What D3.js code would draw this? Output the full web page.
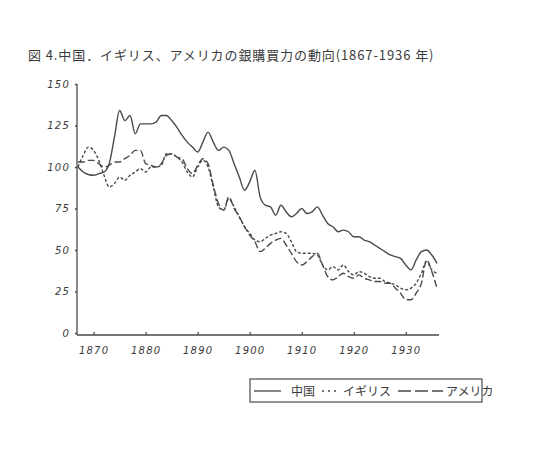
<!DOCTYPE html>
<html>
<head>
<meta charset="utf-8">
<script src="https://cdn.jsdelivr.net/npm/d3@7"></script>
<style>
  body { margin: 0; background: #fff; }
  svg text { fill: #3a3a3a; }
</style>
</head>
<body>
<svg width="545" height="458"></svg>
<script>
const years = d3.range(1867, 1937)

const china = [100, 97, 95.5, 95, 96, 97, 102, 118, 134, 128,
  131, 120, 126, 126, 126, 127, 131, 131, 128, 124,
  119, 115, 112, 109, 115, 121, 115, 110, 112, 110,
  102, 94, 86, 91, 98, 82, 77, 76, 71, 77,
  73, 70, 72, 75, 72, 73, 76, 71, 66, 64,
  61, 62, 61, 58, 58, 56, 55, 53, 51, 49,
  47, 46, 45, 41, 38, 44, 49, 50, 47, 42]

const britain = [100, 107, 112, 110, 104, 95, 88, 90, 94, 92,
  95, 97, 99, 97, 100, 100, 101, 108, 108, 106,
  103, 97, 94, 100, 104, 100, 88, 76, 74, 81,
  76, 70, 64, 60, 56, 55, 57, 59, 60, 61,
  60, 55, 49, 48, 48, 48, 47, 41, 38, 40,
  38, 41, 37, 35, 37, 36, 34, 33, 33, 31,
  30, 29, 27, 26, 27, 30, 36, 43, 38, 36]

const america = [103, 103, 104, 104, 102, 100, 101, 103, 103, 105,
  107, 110, 110, 102, 101, 100, 102, 107, 108, 106,
  105, 99, 96, 101, 105, 102, 89, 78, 74, 82,
  75, 70, 64, 59, 55, 49, 51, 54, 56, 57,
  53, 48, 43, 41, 43, 46, 48, 41, 34, 32,
  34, 36, 34, 33, 35, 33, 32, 31, 31, 30,
  30, 27, 24, 20, 20, 24, 30, 44, 37, 27]

const yTicks = [0, 25, 50, 75, 100, 125, 150]
const xTicks = [1870, 1880, 1890, 1900, 1910, 1920, 1930]

const title = '図 4.中国．イギリス、アメリカの銀購買力の動向(1867-1936 年)'
const legendNames = ['中国', 'イギリス', 'アメリカ']

const svg = d3.select('svg')
const ink = '#4a4a4a'

const xScale = d3.scaleLinear()
  .domain([1867, 1936])
  .range([78, 437])

const yScale = d3.scaleLinear()
  .domain([0, 150])
  .range([333, 84])

svg.append('text')
  .attr('x', 28)
  .attr('y', 60)
  .attr('font-family', '"Noto Sans CJK JP", sans-serif')
  .attr('font-size', 13)
  .attr('letter-spacing', 0.9)
  .text(title)

// axes, hand-drawn look: small ticks, italic labels
const yAxis = d3.axisLeft(yScale).tickValues(yTicks).tickSize(2).tickPadding(5)
const xAxis = d3.axisBottom(xScale).tickValues(xTicks).tickSize(-3).tickPadding(12).tickFormat(d3.format('d'))

const gy = svg.append('g')
  .attr('transform', 'translate(77,0)')
  .call(yAxis)
gy.select('.domain').attr('d', 'M0,84V335')

const gx = svg.append('g')
  .attr('transform', 'translate(0,335)')
  .call(xAxis)
gx.select('.domain').attr('d', 'M77,0H439')

svg.selectAll('.tick text')
  .attr('font-family', '"DejaVu Sans", sans-serif')
  .attr('font-style', 'italic')
  .attr('font-size', 10)
  .attr('letter-spacing', 1.2)
  .style('fill', '#3a3a3a')
svg.selectAll('.domain, .tick line').attr('stroke', ink).attr('stroke-width', 1.3)

const line = values => d3.line()
  .x((d, i) => xScale(years[i]))
  .y(d => yScale(d))
  .curve(d3.curveMonotoneX)(values)

const series = [
  {values: china, dash: null},
  {values: britain, dash: '3,2'},
  {values: america, dash: '7,3'}
]

svg.selectAll('path.series').data(series)
  .enter().append('path')
  .attr('class', 'series')
  .attr('d', d => line(d.values))
  .attr('fill', 'none')
  .attr('stroke', ink)
  .attr('stroke-width', 1.4)
  .attr('stroke-dasharray', d => d.dash)

// legend box (text runs past its right edge, as in the print)
const lg = svg.append('g')
lg.append('rect')
  .attr('x', 250).attr('y', 379)
  .attr('width', 232).attr('height', 23)
  .attr('fill', 'none').attr('stroke', ink).attr('stroke-width', 1.2)

const legendItems = [
  {x1: 254, x2: 281, tx: 291, dash: null},
  {x1: 322, x2: 338, tx: 343, dash: '2,4'},
  {x1: 398, x2: 443, tx: 446, dash: '13,4'}
]
legendItems.forEach((d, i) => {
  lg.append('line')
    .attr('x1', d.x1).attr('x2', d.x2)
    .attr('y1', 391).attr('y2', 391)
    .attr('stroke', ink).attr('stroke-width', 1.3)
    .attr('stroke-dasharray', d.dash)
  lg.append('text')
    .attr('x', d.tx).attr('y', 395.5)
    .attr('font-family', '"Noto Sans CJK JP", sans-serif')
    .attr('font-size', 12)
    .text(legendNames[i])
})
</script>
</body>
</html>
